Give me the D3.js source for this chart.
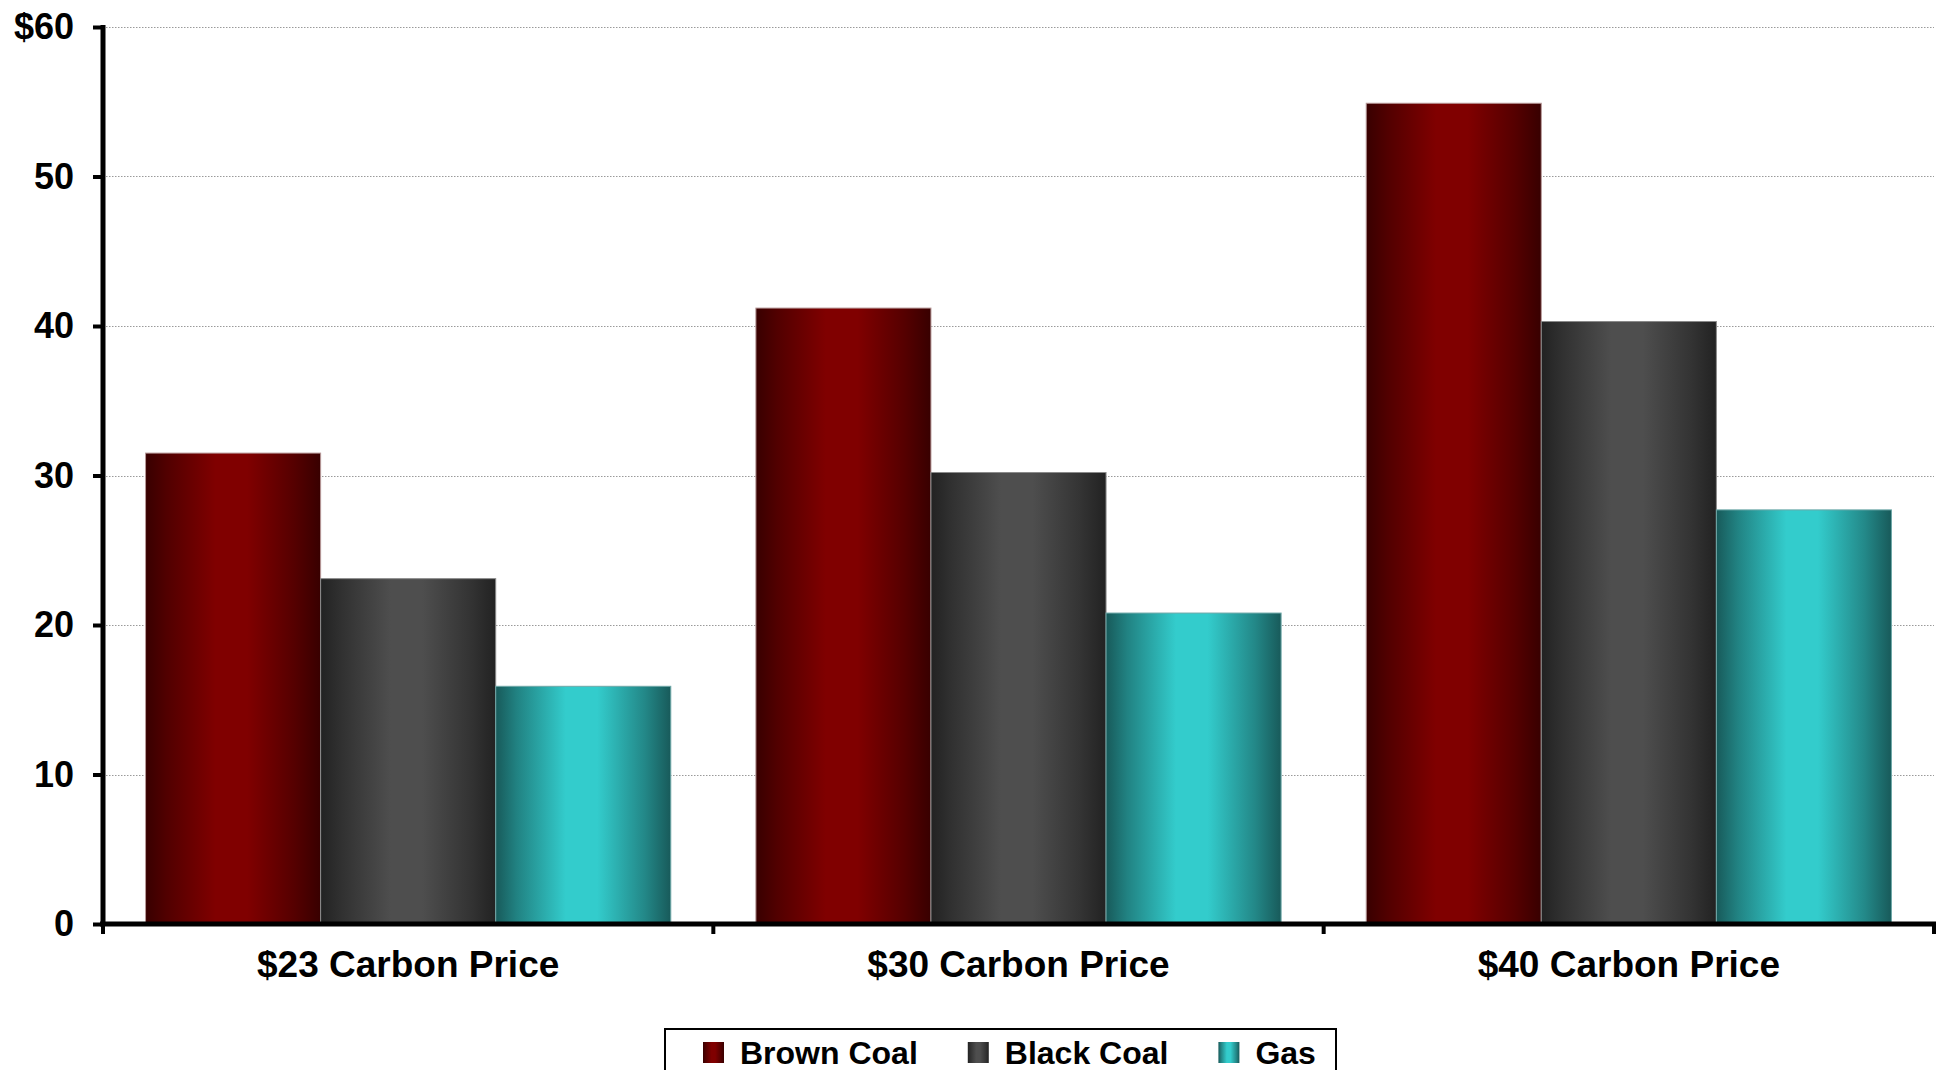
<!DOCTYPE html>
<html>
<head>
<meta charset="utf-8">
<script src="https://cdn.jsdelivr.net/npm/d3@7"></script>
<style>
  html, body { margin: 0; padding: 0; background: #fff; }
  svg { display: block; font-family: 'Liberation Sans', Arial, sans-serif; font-weight: bold; }
</style>
</head>
<body>
<div id="chart"></div>
<script>
// chart data
var categories = ['$23 Carbon Price', '$30 Carbon Price', '$40 Carbon Price'];
var seriesNames = ['Brown Coal', 'Black Coal', 'Gas'];
var brownCoal = [31.5, 41.2, 54.9];
var blackCoal = [23.1, 30.2, 40.3];
var gas = [15.9, 20.8, 27.7];
var yTicks = [0, 10, 20, 30, 40, 50, 60];

var seriesValues = [brownCoal, blackCoal, gas];

// gradient colours: edge, centre
var seriesStyle = [
    { id: 'gBrown', edge: '#380000', mid: '#800000', stroke: '#b89a9a' },
    { id: 'gBlack', edge: '#222222', mid: '#4e4e4e', stroke: '#8a8a8a' },
    { id: 'gGas',   edge: '#185a5a', mid: '#33cccc', stroke: '#6fa8a8' }
];

var width = 1944, height = 1070;
var margin = { left: 103, right: 10, top: 27, bottom: 146 };

var svg = d3.select('#chart').append('svg')
    .attr('width', width)
    .attr('height', height);

svg.append('rect').attr('width', width).attr('height', height).attr('fill', '#fff');

var defs = svg.append('defs');
seriesStyle.forEach(function(s) {
    var grad = defs.append('linearGradient')
        .attr('id', s.id)
        .attr('x1', '0%').attr('x2', '100%')
        .attr('y1', '0%').attr('y2', '0%');
    [[0, s.edge], [0.12, d3.interpolateRgb(s.edge, s.mid)(0.35)], [0.4, s.mid], [0.58, s.mid],
     [0.85, d3.interpolateRgb(s.edge, s.mid)(0.4)], [1, s.edge]].forEach(function(st) {
        grad.append('stop').attr('offset', st[0]).attr('stop-color', st[1]);
    });
});

var x0 = d3.scaleBand()
    .domain(categories)
    .range([margin.left, width - margin.right])
    .paddingInner(0).paddingOuter(0);

var x1 = d3.scaleBand()
    .domain(seriesNames)
    .range([0, x0.bandwidth()])
    .paddingInner(0).paddingOuter(0.243);

var y = d3.scaleLinear()
    .domain([0, 60])
    .range([height - margin.bottom, margin.top]);

// gridlines
svg.append('g').attr('class', 'grid')
    .selectAll('line')
    .data(yTicks.filter(function(d) { return d > 0; }))
    .enter().append('line')
    .attr('x1', margin.left)
    .attr('x2', width - margin.right)
    .attr('y1', function(d) { return Math.round(y(d)) + 0.5; })
    .attr('y2', function(d) { return Math.round(y(d)) + 0.5; })
    .attr('stroke', '#9a9a9a')
    .attr('stroke-width', 1)
    .attr('stroke-dasharray', '1.5,1.5');

// bars
var groups = svg.append('g').attr('class', 'bars')
    .selectAll('g')
    .data(categories)
    .enter().append('g')
    .attr('transform', function(d) { return 'translate(' + x0(d) + ',0)'; });

groups.selectAll('rect')
    .data(function(d, i) {
        return seriesNames.map(function(name, j) {
            return { name: name, value: seriesValues[j][i], idx: j };
        });
    })
    .enter().append('rect')
    .attr('x', function(d) { return x1(d.name); })
    .attr('width', x1.bandwidth())
    .attr('y', function(d) { return y(d.value); })
    .attr('height', function(d) { return y(0) - y(d.value); })
    .attr('fill', function(d) { return 'url(#' + seriesStyle[d.idx].id + ')'; })
    .attr('stroke', function(d) { return seriesStyle[d.idx].stroke; })
    .attr('stroke-width', 1);

// y axis
var yAxis = svg.append('g').attr('class', 'y-axis')
    .attr('transform', 'translate(' + margin.left + ',0)')
    .call(d3.axisLeft(y).tickValues(yTicks).tickSize(10).tickPadding(19)
        .tickFormat(function(d) { return d === 60 ? '$60' : d; }));
yAxis.select('.domain').remove();
yAxis.selectAll('.tick line').attr('stroke', '#000').attr('stroke-width', 4);
yAxis.selectAll('.tick text')
    .attr('fill', '#000')
    .style('font-size', '36px')
    .style('font-family', "'Liberation Sans', Arial, sans-serif")
    .style('font-weight', 'bold');
yAxis.append('line')
    .attr('x1', 0).attr('x2', 0)
    .attr('y1', y(60) - 2).attr('y2', y(0) + 2)
    .attr('stroke', '#000').attr('stroke-width', 5);

// x axis
var xAxis = svg.append('g').attr('class', 'x-axis')
    .attr('transform', 'translate(0,' + y(0) + ')');
xAxis.append('line')
    .attr('x1', margin.left - 3).attr('x2', width - margin.right + 2)
    .attr('y1', 0).attr('y2', 0)
    .attr('stroke', '#000').attr('stroke-width', 5);
var boundaries = categories.map(function(c) { return x0(c); }).concat([x0.range()[1]]);
xAxis.selectAll('.xtick')
    .data(boundaries)
    .enter().append('line')
    .attr('class', 'xtick')
    .attr('x1', function(d) { return d; }).attr('x2', function(d) { return d; })
    .attr('y1', 0).attr('y2', 10)
    .attr('stroke', '#000').attr('stroke-width', 4);
xAxis.selectAll('.xlabel')
    .data(categories)
    .enter().append('text')
    .attr('class', 'xlabel')
    .attr('x', function(d) { return x0(d) + x0.bandwidth() / 2; })
    .attr('y', 53)
    .attr('text-anchor', 'middle')
    .style('font-size', '37px')
    .text(function(d) { return d; });

// legend
var legend = svg.append('g').attr('class', 'legend');
legend.append('rect')
    .attr('x', 665).attr('y', 1029)
    .attr('width', 671).attr('height', 80)
    .attr('fill', '#fff')
    .attr('stroke', '#000').attr('stroke-width', 2);

var lx = 703;
seriesNames.forEach(function(name, i) {
    legend.append('rect')
        .attr('x', lx).attr('y', 1042)
        .attr('width', 21).attr('height', 21)
        .attr('fill', 'url(#' + seriesStyle[i].id + ')');
    var t = legend.append('text')
        .attr('x', lx + 37).attr('y', 1064)
        .style('font-size', '32px')
        .text(name);
    lx = lx + 37 + t.node().getComputedTextLength() + 50;
});
</script>
</body>
</html>
